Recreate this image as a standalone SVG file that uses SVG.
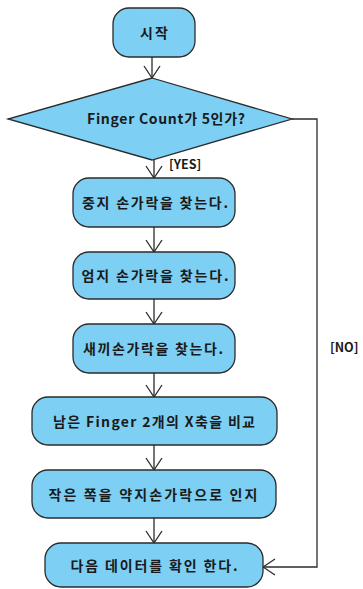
<svg xmlns="http://www.w3.org/2000/svg" width="363" height="589" viewBox="0 0 363 589">
<style>
.n{fill:#7dd0f3;stroke:#2b2b2b;stroke-width:1.3}
.t{font-family:"Noto Sans CJK KR","Noto Sans",sans-serif;font-size:14px;font-weight:bold;fill:#1a1a1a;text-anchor:middle}
.l{font-family:"Noto Sans CJK KR","Noto Sans",sans-serif;font-size:12.5px;font-weight:bold;fill:#1a1a1a}
.c{fill:none;stroke:#2b2b2b;stroke-width:1.3}
</style>
<defs>
<marker id="a" viewBox="0 0 14 18" refX="13" refY="9" markerWidth="14" markerHeight="18" markerUnits="userSpaceOnUse" orient="auto">
<path d="M1,1 L13,9 L1,17" fill="none" stroke="#2b2b2b" stroke-width="1.3"/>
</marker>
</defs>
<rect width="363" height="589" fill="#ffffff"/>
<g id="connectors">
<line class="c" x1="152" y1="57" x2="152" y2="78" marker-end="url(#a)"/>
<line class="c" x1="154" y1="160" x2="154" y2="178" marker-end="url(#a)"/>
<line class="c" x1="154" y1="227" x2="154" y2="252" marker-end="url(#a)"/>
<line class="c" x1="154" y1="299" x2="154" y2="324" marker-end="url(#a)"/>
<line class="c" x1="154" y1="373" x2="154" y2="397" marker-end="url(#a)"/>
<line class="c" x1="154" y1="445" x2="154" y2="470" marker-end="url(#a)"/>
<line class="c" x1="154" y1="518" x2="154" y2="543" marker-end="url(#a)"/>
<polyline class="c" points="292,119 317,119 317,567 263,567" marker-end="url(#a)"/>
<text class="l" x="169" y="169">[YES]</text>
<text class="l" x="330" y="352">[NO]</text>
</g>
<g id="start">
<rect class="n" x="113" y="8" width="82" height="49" rx="16"/>
<text class="t" x="154" y="38" textLength="28" lengthAdjust="spacing">시작</text>
</g>
<g id="decision">
<polygon class="n" points="152,78 292,119 152,160 8,119"/>
<text class="t" x="166" y="124" textLength="158" lengthAdjust="spacing">Finger Count가 5인가?</text>
</g>
<g id="middle">
<rect class="n" x="73" y="178" width="162" height="49" rx="16"/>
<text class="t" x="155" y="208" textLength="146" lengthAdjust="spacing">중지 손가락을 찾는다.</text>
</g>
<g id="thumb">
<rect class="n" x="73" y="252" width="162" height="47" rx="16"/>
<text class="t" x="155" y="281" textLength="147" lengthAdjust="spacing">엄지 손가락을 찾는다.</text>
</g>
<g id="pinky">
<rect class="n" x="73" y="324" width="162" height="49" rx="16"/>
<text class="t" x="153" y="354" textLength="140" lengthAdjust="spacing">새끼손가락을 찾는다.</text>
</g>
<g id="compare">
<rect class="n" x="32" y="397" width="245" height="48" rx="16"/>
<text class="t" x="154" y="427" textLength="202" lengthAdjust="spacing">남은 Finger 2개의 X축을 비교</text>
</g>
<g id="ring">
<rect class="n" x="32" y="470" width="244" height="48" rx="16"/>
<text class="t" x="153" y="500" textLength="209" lengthAdjust="spacing">작은 쪽을 약지손가락으로 인지</text>
</g>
<g id="next">
<rect class="n" x="45" y="543" width="218" height="44" rx="16"/>
<text class="t" x="154" y="571" textLength="167" lengthAdjust="spacing">다음 데이터를 확인 한다.</text>
</g>
</svg>
